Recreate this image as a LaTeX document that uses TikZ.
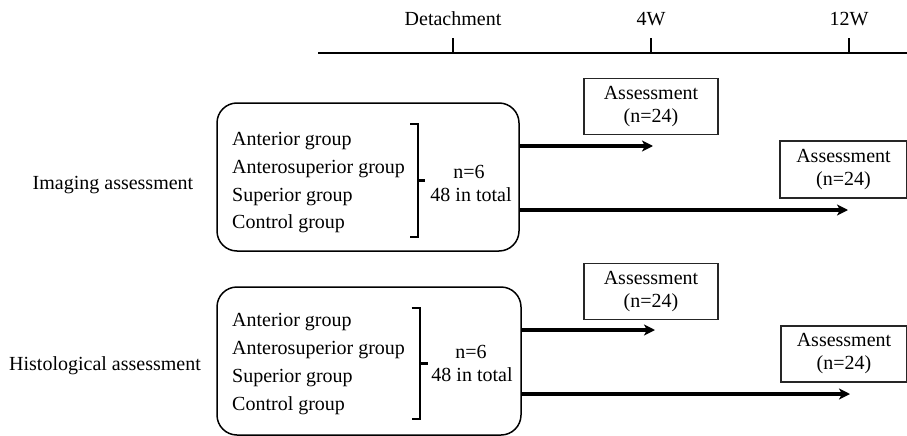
\documentclass[tikz,border=0pt]{standalone}
\usepackage{fontspec}
\setmainfont{Liberation Serif}
\usetikzlibrary{arrows.meta}

\tikzset{
  txt/.style={font=\fontsize{20}{23}\selectfont, inner sep=0pt},
  grptxt/.style={txt, anchor=base west},
  grpbox/.style={draw, line width=1.5pt, rounded corners=20pt, inner sep=0pt},
  assbox/.style={draw=black!85, line width=1.2pt, inner sep=0pt, align=center,
                 font=\fontsize{20}{23}\selectfont},
  arr/.style={line width=3.2pt, -{Stealth[length=11pt,width=11pt,inset=3pt]}},
  brk/.style={line width=2.4pt},
  axis/.style={line width=2.6pt},
}

\begin{document}
\begin{tikzpicture}[x=1pt,y=-1pt]
\clip (0,0) rectangle (907,436);
\fill[white] (0,0) rectangle (907,436);

% ---- time axis ----
\coordinate (ax0) at (318,53);
\coordinate (ax1) at (915,53);
\draw[axis, -{Straight Barb[length=6pt,width=9pt,line width=1pt]}] (ax0) -- (ax1);
\coordinate (t0) at (453,53);
\coordinate (t4) at (651,53);
\coordinate (t12) at (849,53);
\foreach \t/\lab in {t0/Detachment, t4/4W, t12/12W}{
  \draw[axis] (\t) -- ++(0,-15) coordinate (\t top);
  \node[txt, anchor=base] (\t lab) at ([yshift=12pt]\t top) {\lab};
}

% ---- imaging block ----
\node[txt, anchor=base] (imglab) at (113,189) {Imaging assessment};
\node[grpbox, minimum width=302pt, minimum height=148pt] (img) at (368,177) {};
\node[grptxt] (ia) at (232,145) {Anterior group};
\node[grptxt] (ias) at (232,173) {Anterosuperior group};
\node[grptxt] (is) at (232,201) {Superior group};
\node[grptxt] (ic) at (232,228) {Control group};
\draw[brk] (410,124) -- (418,124) -- (418,237) -- (410,237)
           (418,180.5) -- (425,180.5);
\node[txt, anchor=base] (in) at (469,178) {n=6};
\node[txt, anchor=base] (itot) at (471,201.5) {48 in total};

\node[assbox, minimum width=134pt, minimum height=56pt] (ia4) at (651,106.5) {Assessment\\(n=24)};
\node[assbox, minimum width=127pt, minimum height=57pt] (ia12) at (843.5,169.5) {Assessment\\(n=24)};

\coordinate (ie4) at (653,146);
\coordinate (ie12) at (848,210);
\draw[arr] (img.east |- ie4) -- (ie4);
\draw[arr] (img.east |- ie12) -- (ie12);

% ---- histological block ----
\node[txt, anchor=base] (hislab) at (105,370) {Histological assessment};
\node[grpbox, minimum width=304pt, minimum height=148pt] (his) at (369,361) {};
\node[grptxt] (ha) at (232,326) {Anterior group};
\node[grptxt] (has) at (232,354) {Anterosuperior group};
\node[grptxt] (hs) at (232,382) {Superior group};
\node[grptxt] (hc) at (232,410) {Control group};
\draw[brk] (411.5,308) -- (420,308) -- (420,419) -- (411.5,419)
           (420,363.5) -- (428,363.5);
\node[txt, anchor=base] (hn) at (471,358) {n=6};
\node[txt, anchor=base] (htot) at (472,381.5) {48 in total};

\node[assbox, minimum width=134pt, minimum height=56pt] (ha4) at (651,291.5) {Assessment\\(n=24)};
\node[assbox, minimum width=126pt, minimum height=56pt] (ha12) at (844,354) {Assessment\\(n=24)};

\coordinate (he4) at (655,330);
\coordinate (he12) at (850,394);
\draw[arr] (his.east |- he4) -- (he4);
\draw[arr] (his.east |- he12) -- (he12);
\end{tikzpicture}
\end{document}
